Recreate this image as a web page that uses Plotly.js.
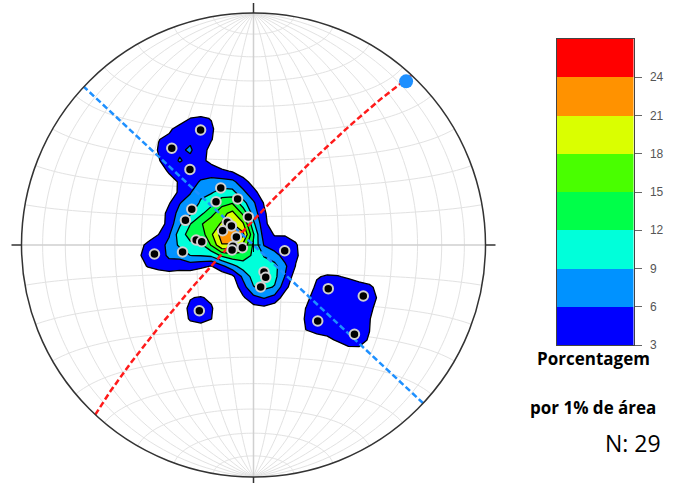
<!DOCTYPE html>
<html><head><meta charset="utf-8">
<script src="https://cdn.plot.ly/plotly-3.0.1.min.js"></script>
<style>html,body{margin:0;padding:0;background:#fff}</style>
</head><body><div id="chart" style="width:676px;height:483px"></div>
<script>
// ---- data (poles, lower hemisphere) ----
const poleTrend  = [335.3,319.8,319.9,330.1,319.1,341.0,300.0,289.9,349.5,310.9,310.8,294.8,294.9,275.0,273.6,266.4,256.4,264.8,264.4,100.4,158.7,159.3,170.3,219.5,120.3,114.9,139.8,131.5,256.9];
const polePlunge = [44.6,44.6,55.0,66.9,69.9,72.9,64.9,64.5,80.0,77.9,79.8,78.1,83.4,69.8,71.8,82.8,86.0,54.7,64.9,78.9,79.9,77.9,75.1,59.9,59.4,46.7,54.7,41.5,82.3];
// planes (strike, dip; right-hand rule)
const planeStrike = [223, 133];
const planeDip    = [84, 90];
// axis marked by the blue dot
const axisTrend = [43];
const axisPlunge = [4];
// colour scale levels (percent per 1% area)
const levels = [3,6,9,12,15,18,21,24];
const levelTop = 27;
const bandColors = ['#0000FF','#0092FF','#00FFDA','#00FF49','#49FF00','#DAFF00','#FF9200','#FF0000'];
const nCount = 29;

// ---- projection helpers (Schmidt net, unit radius) ----
const D = Math.PI/180;
function project(trend, plunge){
  const th = (90-plunge)*D, t = trend*D;
  const r = Math.SQRT2*Math.sin(th/2);
  return [r*Math.sin(t), r*Math.cos(t)];
}
function netXY(lam, phi){
  const c = Math.cos(phi*D), l = lam*D;
  const k = Math.sqrt(1 + c*Math.cos(l));
  return [c*Math.sin(l)/k, Math.sin(phi*D)/k];
}

// net grid as SVG paths (drawn below the contours)
let gridPath = '', axisPath = '';
function addLine(pts, isAxis){
  const s = 'M' + pts.map(p => p[0].toFixed(5)+','+p[1].toFixed(5)).join('L');
  if(isAxis) axisPath += s; else gridPath += s;
}
for(let lam=-80; lam<=80; lam+=10){
  const pts=[]; for(let phi=-90; phi<=90; phi+=2) pts.push(netXY(lam,phi));
  addLine(pts, lam===0);
}
for(let phi=-80; phi<=80; phi+=10){
  const pts=[]; for(let lam=-90; lam<=90; lam+=2) pts.push(netXY(lam,phi));
  addLine(pts, phi===0);
}

// projected poles
const px=[], py=[];
for(let i=0;i<poleTrend.length;i++){ const p=project(poleTrend[i],polePlunge[i]); px.push(p[0]); py.push(p[1]); }

// density: percent of poles per 1% of net area (counting circle with a soft edge)
const r0 = 0.095, soft = 0.016;
const step = 1/22;
const gx=[], gy=[];
for(let k=-24;k<=24;k++){ gx.push(k*step); gy.push(k*step); }
const Z = gy.map(y => gx.map(x => {
  if(x*x+y*y>1) return 0;
  let s=0;
  for(let i=0;i<px.length;i++){ const d=Math.hypot(x-px[i], y-py[i]); s+=1/(1+Math.exp((d-r0)/soft)); }
  return 100*s/nCount;
}));

// plane traces
function planeTrace(strike, dip){
  const xs=[], ys=[];
  const s=strike*D, dd=(strike+90)*D, d=dip*D;
  for(let r=0;r<=180;r+=1){
    const a=r*D;
    const e = Math.cos(a)*Math.sin(s) + Math.sin(a)*Math.cos(d)*Math.sin(dd);
    const n = Math.cos(a)*Math.cos(s) + Math.sin(a)*Math.cos(d)*Math.cos(dd);
    const dn = Math.sin(a)*Math.sin(d);
    const pl = Math.asin(Math.min(1,Math.max(-1,dn)))/D;
    const tr = Math.atan2(e,n)/D;
    const p = project(tr, pl); xs.push(p[0]); ys.push(p[1]);
  }
  return [xs, ys];
}
const redP = planeTrace(planeStrike[0], planeDip[0]);
const blueP = planeTrace(planeStrike[1], planeDip[1]);
const ax = project(axisTrend[0], axisPlunge[0]);

const cs = [[0,'rgba(255,255,255,0)']].concat(bandColors.map((c,i)=>[(i+1)/8, c]));

const traces = [
  {type:'contour', x:gx, y:gy, z:Z, autocontour:false,
   contours:{start:levels[0], end:levels[levels.length-1], size:3, coloring:'fill', showlines:true},
   colorscale:cs, showscale:false, line:{color:'#000', width:1.3, smoothing:0}, hoverinfo:'skip'},
  {type:'scatter', mode:'lines', x:redP[0], y:redP[1], line:{color:'#FF1A1A', width:2.5, dash:'6px,3px'}, hoverinfo:'skip'},
  {type:'scatter', mode:'lines', x:blueP[0], y:blueP[1], line:{color:'#1E90FF', width:2.5, dash:'6px,3px'}, hoverinfo:'skip'},
  {type:'scatter', mode:'markers', x:px, y:py, marker:{color:'#000', size:9.5, line:{color:'#d0d0d0', width:2}}, hoverinfo:'skip'},
  {type:'scatter', mode:'markers', x:[ax[0]], y:[ax[1]], marker:{color:'#1E90FF', size:14}, hoverinfo:'skip'},
  // colour bar
  {type:'heatmap', xaxis:'x2', yaxis:'y2', x:[0,1], y:levels.concat([levelTop]), z:levels.map(v=>[v]),
   zmin:levels[0], zmax:levels[levels.length-1], colorscale:bandColors.map((c,i)=>[i/7,c]), showscale:false, hoverinfo:'skip'}
];

const R = 232, cx = 253.5, cy = 245, W = 676, H = 483;
const tk = 10/R, cr = 7/R;
const shapes = [
  {type:'path', xref:'x', yref:'y', path:gridPath, line:{color:'#e2e2e2', width:1}, layer:'below'},
  {type:'path', xref:'x', yref:'y', path:axisPath, line:{color:'#d0d0d0', width:1.5}, layer:'below'},
  {type:'circle', xref:'x', yref:'y', x0:-1, y0:-1, x1:1, y1:1, line:{color:'#333', width:1.5}, layer:'above'},
  {type:'line', xref:'x', yref:'y', x0:0, y0:1, x1:0, y1:1+tk, line:{color:'#333', width:1.5}},
  {type:'line', xref:'x', yref:'y', x0:0, y0:-1, x1:0, y1:-1-tk, line:{color:'#333', width:1.5}},
  {type:'line', xref:'x', yref:'y', x0:1, y0:0, x1:1+tk, y1:0, line:{color:'#333', width:1.5}},
  {type:'line', xref:'x', yref:'y', x0:-1, y0:0, x1:-1-tk, y1:0, line:{color:'#333', width:1.5}},
  {type:'line', xref:'x', yref:'y', x0:-cr, y0:0, x1:cr, y1:0, line:{color:'#000', width:1}, layer:'above'},
  {type:'line', xref:'x', yref:'y', x0:0, y0:-cr, x1:0, y1:cr, line:{color:'#000', width:1}, layer:'above'}
];

const layout = {
  width:W, height:H, margin:{l:0,r:0,t:0,b:0}, paper_bgcolor:'#fff', plot_bgcolor:'rgba(0,0,0,0)',
  showlegend:false,
  xaxis:{range:[-cx/R, (W-cx)/R], visible:false, domain:[0,1]},
  yaxis:{range:[-(H-cy)/R, cy/R], visible:false, domain:[0,1]},
  xaxis2:{domain:[557/W, 633.5/W], anchor:'y2', range:[0,1], showline:true, mirror:true, linecolor:'#444', linewidth:1,
          showticklabels:false, ticks:'', showgrid:false, zeroline:false},
  yaxis2:{domain:[(H-345)/H, (H-39)/H], anchor:'x2', side:'right', range:[levels[0], levelTop], tickvals:levels,
          ticks:'outside', ticklen:7, tickwidth:1, tickcolor:'#666', showline:true, mirror:true, linecolor:'#444', linewidth:1,
          ticklabelstandoff:6,
          showgrid:false, zeroline:false, tickfont:{family:'Liberation Sans, Arial, sans-serif', size:12, color:'#555'}},
  shapes:shapes,
  annotations:[
    {text:'<b>Porcentagem</b>', xref:'paper', yref:'paper', x:593/W, y:1-358/H, xanchor:'center', yanchor:'middle', showarrow:false,
     font:{family:'Open Sans, sans-serif', size:17, color:'#000'}},
    {text:'<b>por 1% de área</b>', xref:'paper', yref:'paper', x:593/W, y:1-407/H, xanchor:'center', yanchor:'middle', showarrow:false,
     font:{family:'Open Sans, sans-serif', size:17, color:'#000'}},
    {text:'N: 29', xref:'paper', yref:'paper', x:633/W, y:1-443/H, xanchor:'center', yanchor:'middle', showarrow:false,
     font:{family:'Open Sans, sans-serif', size:23, color:'#000'}}
  ]
};
Plotly.newPlot('chart', traces, layout, {staticPlot:true, displayModeBar:false});
</script></body></html>
